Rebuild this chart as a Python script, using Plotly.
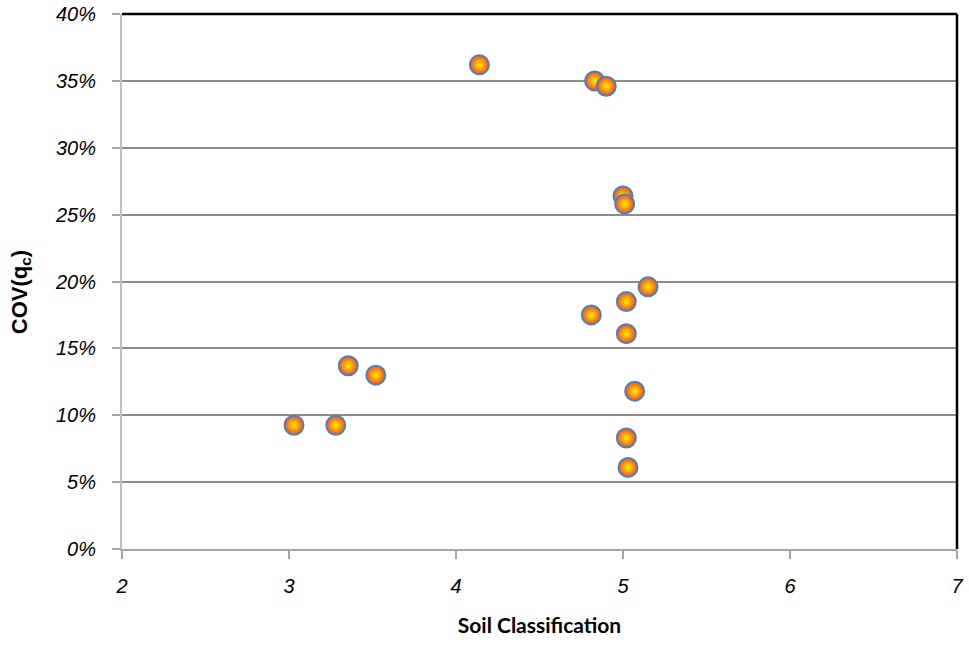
import plotly.graph_objects as go

soil_class = [4.14, 4.83, 4.90, 5.00, 5.01, 5.15, 5.02, 4.81, 5.02, 5.07, 5.02, 5.03, 3.355, 3.52, 3.03, 3.28]
cov_qc = [0.362, 0.350, 0.346, 0.264, 0.258, 0.196, 0.185, 0.175, 0.161, 0.118, 0.083, 0.061, 0.137, 0.130, 0.0925, 0.0925]

x_ticks = [2, 3, 4, 5, 6, 7]
y_ticks = [0, 0.05, 0.10, 0.15, 0.20, 0.25, 0.30, 0.35, 0.40]

fig = go.Figure()
fig.add_trace(go.Scatter(
    x=soil_class, y=cov_qc, mode="markers",
    marker=dict(size=19, color="#F24E1E",
                gradient=dict(type="radial", color="#FFF000"),
                line=dict(color="#4F7FC0", width=2)),
    showlegend=False, hoverinfo="x+y"))

tickfont = dict(family="Liberation Sans, Arial", size=20, color="#000000", style="italic")

fig.update_layout(
    width=969, height=648,
    margin=dict(l=122, r=12, t=14, b=99),
    paper_bgcolor="white", plot_bgcolor="white",
    xaxis=dict(range=[2, 7], tickvals=x_ticks, ticktext=[str(v) for v in x_ticks],
               showgrid=False, zeroline=False, automargin=False,
               showline=True, linecolor="#A6A6A6", linewidth=2,
               ticks="outside", ticklen=8, tickcolor="#A6A6A6", tickwidth=1.5,
               ticklabelstandoff=10,
               tickfont=tickfont,
               title=dict(text="<b>Soil Classification</b>",
                          font=dict(family="Lato, Open Sans", size=21, color="#000"),
                          standoff=22)),
    yaxis=dict(range=[0, 0.40], tickvals=y_ticks,
               ticktext=[f"{int(round(v*100))}%" for v in y_ticks],
               showgrid=True, gridcolor="#8C8C8C", gridwidth=1.5,
               zeroline=False, automargin=False,
               showline=True, linecolor="#BFBFBF", linewidth=2,
               ticks="outside", ticklen=8, tickcolor="#A6A6A6", tickwidth=1.5,
               ticklabelstandoff=12,
               tickfont=tickfont),
    annotations=[dict(text="<b>COV(q<sub>c</sub>)</b>", xref="paper", yref="paper",
                      x=-0.121, y=0.48, xanchor="center", yanchor="middle",
                      textangle=-90, showarrow=False,
                      font=dict(family="Liberation Sans, Arial", size=22, color="#000"))],
)

# black frame on top and right
fig.add_shape(type="line", xref="paper", yref="paper", x0=0, x1=1, y0=1, y1=1,
              line=dict(color="black", width=2.5))
fig.add_shape(type="line", xref="paper", yref="paper", x0=1, x1=1, y0=0, y1=1,
              line=dict(color="black", width=2.5))

fig.write_html("out.html", config={"displayModeBar": False},
               post_script="document.body.style.margin='0';document.body.style.padding='0';")
